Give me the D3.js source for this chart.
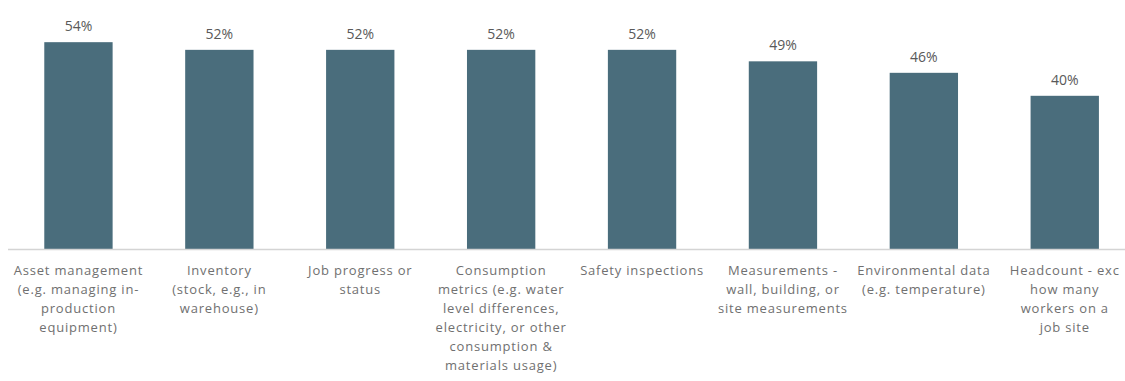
<!DOCTYPE html>
<html>
<head>
<meta charset="utf-8">
<script src="https://cdn.jsdelivr.net/npm/d3@7"></script>
<style>
  html, body { margin: 0; padding: 0; background: #ffffff; }
  svg { display: block; }
</style>
</head>
<body>
<svg id="chart" width="1125" height="381"></svg>
<script>
// Share of respondents per data type
const categories = [
  "Asset management",
  "Inventory",
  "Job progress",
  "Consumption metrics",
  "Safety inspections",
  "Measurements",
  "Environmental data",
  "Headcount"
];
const values = [0.54, 0.52, 0.52, 0.52, 0.52, 0.49, 0.46, 0.40];
const tickLabels = [
  ["Asset management", "(e.g. managing in-", "production", "equipment)"],
  ["Inventory", "(stock, e.g., in", "warehouse)"],
  ["Job progress or", "status"],
  ["Consumption", "metrics (e.g. water", "level differences,", "electricity, or other", "consumption &", "materials usage)"],
  ["Safety inspections"],
  ["Measurements -", "wall, building, or", "site measurements"],
  ["Environmental data", "(e.g. temperature)"],
  ["Headcount - exc", "how many", "workers on a", "job site"]
];

const svg = d3.select("#chart");
const baseY = 249;
const step = 140.9;
const left = 8;

const x = d3.scaleBand()
  .domain(categories)
  .range([left, left + step * categories.length])
  .paddingInner(0.515)
  .paddingOuter(0.2575);

const y = d3.scaleLinear().domain([0, 1]).range([baseY, baseY - 383]);

// bars
svg.append("g").selectAll("rect")
  .data(categories)
  .join("rect")
  .attr("x", d => x(d))
  .attr("width", x.bandwidth())
  .attr("y", (d, i) => y(values[i]))
  .attr("height", (d, i) => baseY - y(values[i]))
  .attr("fill", "#4a6d7c");

// baseline axis
const axis = d3.axisBottom(x).tickSize(0).tickFormat("");
const gx = svg.append("g").attr("transform", `translate(0,${baseY})`).call(axis);
gx.select(".domain").attr("stroke", "#d4d4d4").attr("stroke-width", 1.5)
  .attr("d", `M${left},0.5H1125`);

// value labels
svg.append("g").selectAll("text")
  .data(categories)
  .join("text")
  .attr("x", d => x(d) + x.bandwidth() / 2)
  .attr("y", (d, i) => y(values[i]) - 11)
  .attr("text-anchor", "middle")
  .attr("font-family", "'Open Sans', sans-serif")
  .attr("font-size", 14)
  .attr("fill", "#595959")
  .text((d, i) => d3.format(".0%")(values[i]));

// category labels
const lab = svg.append("g").selectAll("text")
  .data(categories)
  .join("text")
  .attr("x", d => x(d) + x.bandwidth() / 2)
  .attr("y", 275)
  .attr("text-anchor", "middle")
  .attr("font-family", "'Open Sans', sans-serif")
  .attr("font-size", 13)
  .attr("letter-spacing", 0.8)
  .attr("fill", "#707070");
lab.each(function(d, i) {
  const t = d3.select(this);
  tickLabels[i].forEach((line, j) => {
    t.append("tspan")
      .attr("x", x(d) + x.bandwidth() / 2)
      .attr("dy", j === 0 ? 0 : 19)
      .text(line);
  });
});
</script>
</body>
</html>
